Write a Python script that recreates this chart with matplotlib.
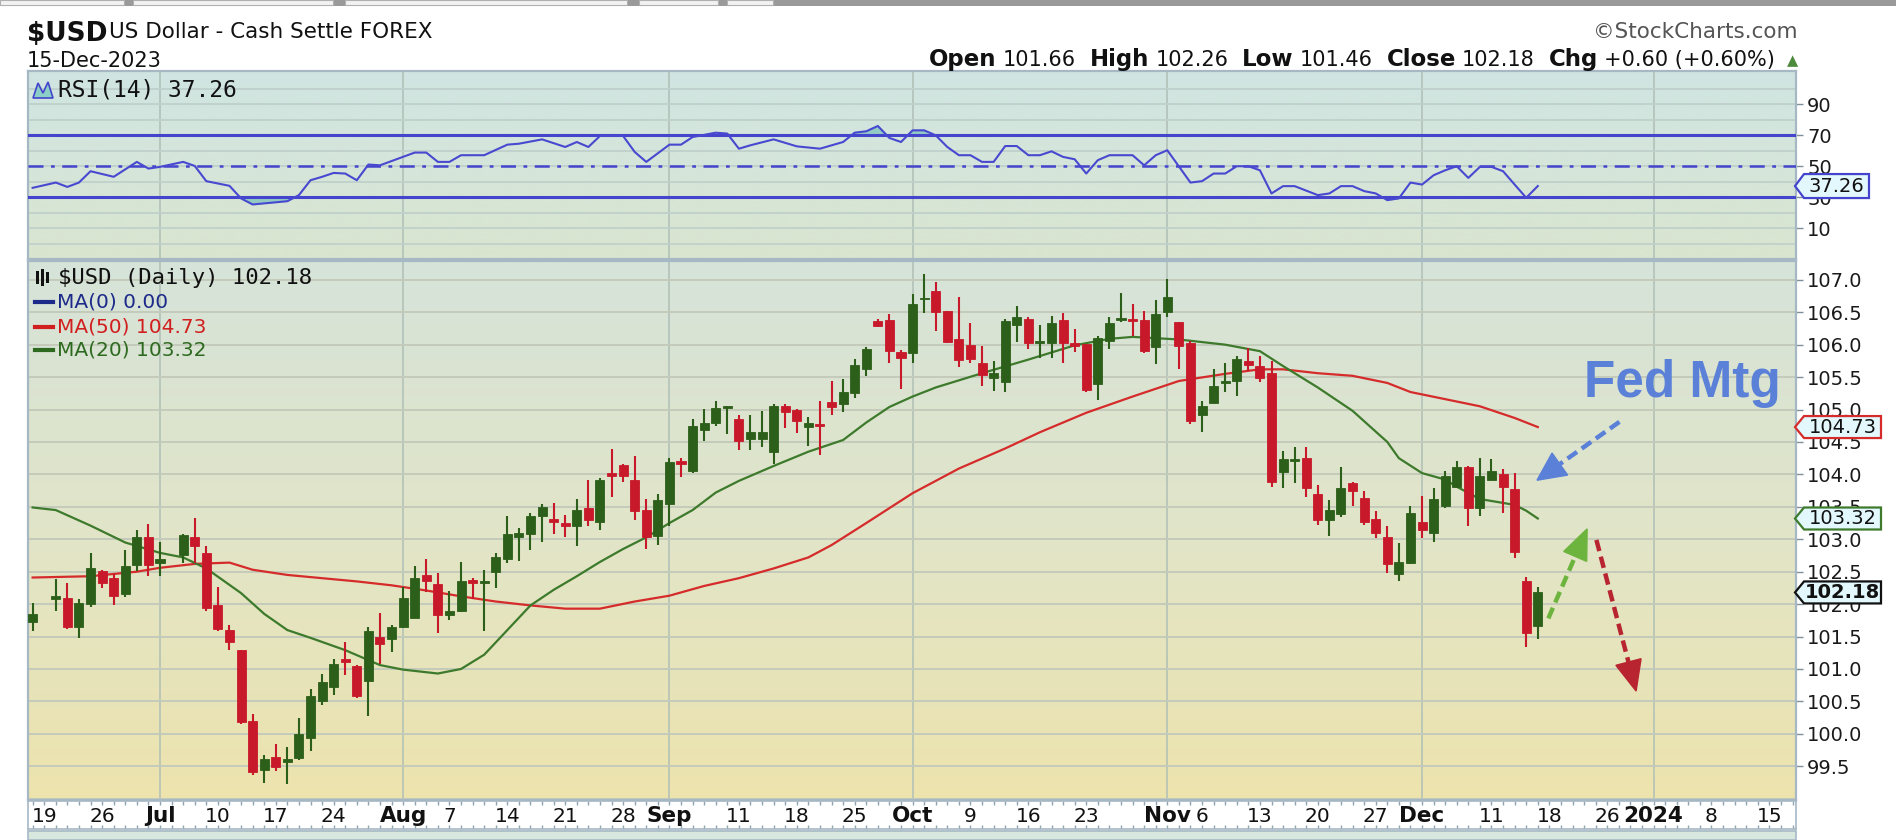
import numpy as np
import pandas as pd
import matplotlib

matplotlib.use('Agg')
import matplotlib.pyplot as plt
from matplotlib.patches import Rectangle, Polygon
from matplotlib.colors import LinearSegmentedColormap

plt.rcParams['font.family'] = ['DejaVu Sans']

# ---- data -----------------------------------------------------------------
# daily bars 16-Jun-2023 .. 15-Dec-2023, nan = no bar (19-Jun, 4-Jul)
candle_dates = pd.bdate_range('2023-06-16', '2023-12-15')
nan = np.nan
opens = [
    101.72, nan, 102.08, 102.09, 101.65, 102.00, 102.51, 102.40, 102.15, 102.61,
    103.04, 102.64, nan, 102.76, 103.04, 102.79, 101.99, 101.60, 101.29, 100.20,
    99.45, 99.65, 99.56, 99.63, 99.94, 100.51, 100.72, 101.15, 101.05, 100.82,
    101.50, 101.46, 101.65, 101.79, 102.45, 102.31, 101.83, 101.90, 102.37, 102.33,
    102.50, 102.70, 103.03, 103.08, 103.36, 103.32, 103.25, 103.20, 103.48, 103.27,
    104.02, 104.15, 103.91, 103.45, 103.05, 103.55, 104.20, 104.06, 104.69, 104.79,
    105.03, 104.85, 104.55, 104.55, 104.34, 105.05, 104.99, 104.73, 104.78, 105.11,
    105.08, 105.25, 105.63, 106.37, 106.38, 105.89, 105.87, 106.70, 106.83, 106.52,
    106.09, 105.99, 105.71, 105.49, 105.42, 106.31, 106.40, 106.02, 106.02, 106.38,
    106.03, 106.01, 105.39, 106.06, 106.39, 106.40, 106.38, 105.97, 106.51, 106.35,
    106.03, 104.91, 105.10, 105.41, 105.44, 105.75, 105.67, 105.56, 104.03, 104.21,
    104.25, 103.70, 103.30, 103.39, 103.87, 103.63, 103.31, 103.04, 102.47, 102.64,
    103.27, 103.09, 103.51, 103.81, 104.12, 103.48, 103.92, 104.01, 103.77, 102.35,
    101.66,
]
highs = [
    102.02, nan, 102.38, 102.33, 102.08, 102.79, 102.52, 102.47, 102.83, 103.15,
    103.24, 102.96, nan, 103.08, 103.33, 102.90, 102.27, 101.68, 101.29, 100.31,
    99.68, 99.85, 99.79, 100.25, 100.69, 100.93, 101.15, 101.41, 101.06, 101.64,
    101.86, 101.68, 102.27, 102.59, 102.69, 102.48, 102.20, 102.65, 102.41, 102.52,
    102.79, 103.36, 103.17, 103.40, 103.55, 103.56, 103.38, 103.62, 103.91, 103.94,
    104.39, 104.16, 104.29, 103.62, 103.70, 104.25, 104.25, 104.85, 105.01, 105.13,
    105.05, 104.92, 104.92, 104.97, 105.09, 105.09, 105.01, 104.89, 105.13, 105.44,
    105.47, 105.78, 105.97, 106.40, 106.48, 105.92, 106.78, 107.09, 106.97, 106.52,
    106.73, 106.34, 105.98, 105.75, 106.39, 106.59, 106.42, 106.30, 106.44, 106.49,
    106.24, 106.01, 106.13, 106.42, 106.80, 106.62, 106.52, 106.69, 107.01, 106.35,
    106.06, 105.13, 105.62, 105.71, 105.82, 105.95, 105.82, 105.75, 104.36, 104.42,
    104.42, 103.84, 103.60, 104.11, 103.88, 103.74, 103.43, 103.20, 102.94, 103.52,
    103.66, 103.79, 104.05, 104.20, 104.13, 104.25, 104.23, 104.08, 104.02, 102.42,
    102.26,
]
lows = [
    101.58, nan, 101.89, 101.62, 101.48, 101.96, 102.25, 101.98, 102.11, 102.51,
    102.43, 102.43, nan, 102.64, 102.64, 101.90, 101.59, 101.29, 100.15, 99.37,
    99.24, 99.42, 99.22, 99.60, 99.74, 100.44, 100.60, 100.91, 100.55, 100.28,
    101.08, 101.26, 101.63, 101.79, 102.19, 101.55, 101.76, 101.88, 102.08, 101.58,
    102.25, 102.64, 102.66, 102.84, 102.95, 103.08, 103.03, 102.89, 103.20, 103.15,
    103.65, 103.89, 103.30, 102.85, 102.91, 103.20, 103.96, 104.02, 104.51, 104.74,
    104.63, 104.37, 104.37, 104.43, 104.16, 104.72, 104.64, 104.44, 104.30, 104.92,
    104.96, 105.18, 105.52, 106.28, 105.72, 105.31, 105.72, 106.49, 106.21, 106.03,
    105.66, 105.72, 105.37, 105.28, 105.27, 106.04, 105.94, 105.80, 105.80, 105.72,
    105.88, 105.27, 105.14, 105.94, 106.35, 106.13, 105.87, 105.70, 106.43, 105.62,
    104.77, 104.65, 105.10, 105.27, 105.21, 105.59, 105.42, 103.81, 103.79, 103.86,
    103.65, 103.22, 103.05, 103.34, 103.51, 103.22, 103.02, 102.48, 102.36, 102.62,
    103.02, 102.95, 103.48, 103.79, 103.20, 103.36, 103.91, 103.40, 102.71, 101.34,
    101.46,
]
closes = [
    101.85, nan, 102.13, 101.64, 102.02, 102.56, 102.33, 102.12, 102.58, 103.04,
    102.60, 102.69, nan, 103.07, 102.89, 101.94, 101.62, 101.42, 100.18, 99.41,
    99.61, 99.49, 99.61, 99.99, 100.59, 100.80, 101.08, 101.10, 100.59, 101.58,
    101.38, 101.65, 102.10, 102.41, 102.35, 101.83, 101.89, 102.36, 102.33, 102.36,
    102.73, 103.08, 103.10, 103.36, 103.50, 103.27, 103.20, 103.45, 103.30, 103.91,
    103.98, 103.98, 103.44, 103.04, 103.60, 104.19, 104.16, 104.74, 104.80, 105.03,
    105.05, 104.51, 104.66, 104.66, 105.05, 104.96, 104.82, 104.80, 104.75, 105.04,
    105.27, 105.68, 105.93, 106.29, 105.90, 105.80, 106.62, 106.72, 106.51, 106.04,
    105.77, 105.78, 105.54, 105.57, 106.37, 106.43, 106.02, 106.06, 106.34, 106.03,
    105.98, 105.30, 106.11, 106.34, 106.41, 106.37, 105.90, 106.48, 106.73, 105.98,
    104.82, 105.05, 105.36, 105.43, 105.78, 105.68, 105.49, 103.89, 104.24, 104.23,
    103.79, 103.30, 103.45, 103.79, 103.75, 103.27, 103.10, 102.62, 102.65, 103.41,
    103.15, 103.62, 103.98, 104.11, 103.48, 103.98, 104.05, 103.81, 102.81, 101.56,
    102.18,
]

# moving averages / RSI: samples at trading-day number (0 = 16-Jun-2023)
ma20_day = [0, 2, 5, 8, 11, 13, 15, 18, 20, 22, 24, 27, 30, 32, 35, 37, 39, 41, 43,
            45, 47, 49, 51, 53, 55, 57, 59, 61, 64, 67, 70, 72, 74, 76, 78, 82, 86,
            90, 93, 95, 99, 103, 106, 108, 111, 114, 115, 117, 118, 120, 122, 123,
            125, 128, 129, 130]
ma20 = [103.49, 103.45, 103.21, 102.95, 102.79, 102.72, 102.55, 102.17, 101.85,
        101.60, 101.48, 101.29, 101.06, 100.99, 100.93, 101.00, 101.22, 101.60,
        101.98, 102.22, 102.43, 102.65, 102.85, 103.03, 103.25, 103.45, 103.72,
        103.90, 104.13, 104.35, 104.53, 104.80, 105.04, 105.20, 105.34, 105.56,
        105.77, 105.99, 106.09, 106.12, 106.08, 106.00, 105.90, 105.67, 105.34,
        104.98, 104.82, 104.50, 104.25, 104.02, 103.92, 103.81, 103.62, 103.53,
        103.44, 103.32]
ma50_day = [0, 5, 9, 11, 14, 17, 19, 22, 25, 28, 31, 34, 37, 40, 43, 46, 49, 52, 55,
            58, 61, 64, 67, 69, 72, 76, 80, 84, 87, 91, 95, 99, 103, 106, 108, 111,
            114, 117, 119, 122, 125, 128, 130]
ma50 = [102.41, 102.43, 102.50, 102.56, 102.62, 102.64, 102.53, 102.45, 102.40,
        102.35, 102.29, 102.21, 102.12, 102.04, 101.98, 101.93, 101.93, 102.04,
        102.13, 102.28, 102.40, 102.55, 102.72, 102.91, 103.25, 103.71, 104.09,
        104.40, 104.65, 104.95, 105.20, 105.44, 105.55, 105.62, 105.62, 105.56,
        105.52, 105.41, 105.27, 105.16, 105.05, 104.87, 104.73]
rsi_day = [0, 2, 3, 4, 5, 7, 9, 10, 11, 13, 14, 15, 17, 18, 19, 22, 23, 24, 25, 26,
           27, 28, 29, 30, 33, 34, 35, 36, 37, 39, 41, 42, 44, 46, 47, 48, 49, 51,
           52, 53, 55, 56, 57, 59, 60, 61, 62, 64, 66, 68, 70, 71, 72, 73, 74, 75,
           76, 77, 78, 79, 80, 81, 82, 83, 84, 85, 86, 87, 88, 89, 90, 91, 92, 93,
           95, 96, 97, 98, 100, 101, 102, 103, 104, 105, 106, 107, 108, 109, 111,
           112, 113, 114, 115, 116, 117, 118, 119, 120, 121, 122, 123, 124, 125,
           126, 127, 128, 129, 130]
rsi = [36.1, 39.5, 36.7, 39.5, 46.8, 43.2, 52.8, 48.5, 49.6, 52.8, 50.2, 40.4, 37.4,
       29.3, 25.4, 27.5, 31.4, 41.0, 43.2, 45.7, 45.3, 41.0, 51.1, 50.6, 58.8, 58.8,
       52.8, 52.8, 57.1, 57.1, 63.9, 64.5, 67.3, 62.4, 65.6, 62.4, 69.5, 69.5, 59.2,
       52.8, 63.9, 63.9, 68.8, 71.6, 71.0, 61.3, 63.5, 67.3, 62.8, 61.3, 65.6, 71.6,
       72.5, 75.9, 68.2, 65.6, 73.1, 73.1, 69.9, 62.4, 57.1, 57.1, 52.8, 52.8, 63.0,
       63.0, 57.1, 57.1, 59.6, 56.0, 54.5, 45.3, 53.9, 57.1, 57.1, 50.6, 57.1, 60.3,
       39.5, 40.4, 45.3, 45.3, 50.0, 50.0, 47.4, 32.5, 37.2, 37.2, 31.4, 32.5, 37.2,
       37.2, 34.0, 32.5, 28.2, 29.3, 39.5, 38.2, 44.2, 47.4, 50.0, 42.5, 49.6, 49.6,
       46.8, 38.2, 29.7, 37.26]

date_labels = [('2023-06-19', '19'), ('2023-06-26', '26'), ('2023-07-03', 'Jul'),
               ('2023-07-10', '10'), ('2023-07-17', '17'), ('2023-07-24', '24'),
               ('2023-08-01', 'Aug'), ('2023-08-07', '7'), ('2023-08-14', '14'),
               ('2023-08-21', '21'), ('2023-08-28', '28'), ('2023-09-01', 'Sep'),
               ('2023-09-11', '11'), ('2023-09-18', '18'), ('2023-09-25', '25'),
               ('2023-10-02', 'Oct'), ('2023-10-09', '9'), ('2023-10-16', '16'),
               ('2023-10-23', '23'), ('2023-11-01', 'Nov'), ('2023-11-06', '6'),
               ('2023-11-13', '13'), ('2023-11-20', '20'), ('2023-11-27', '27'),
               ('2023-12-01', 'Dec'), ('2023-12-11', '11'), ('2023-12-18', '18'),
               ('2023-12-26', '26'), ('2024-01-01', '2024'), ('2024-01-08', '8'),
               ('2024-01-15', '15')]
month_starts = ['2023-07-03', '2023-08-01', '2023-09-01', '2023-10-02',
                '2023-11-01', '2023-12-01', '2024-01-01']

# ---- trading-day axis ------------------------------------------------------
cal = pd.bdate_range('2023-06-16', '2024-01-19')
cal = cal[cal != pd.Timestamp('2023-12-25')]
day_pos = pd.Series(np.arange(len(cal)), index=cal)
candle_x = day_pos[candle_dates].values

GREEN, RED = '#2c5f19', '#c8192a'
MA20_C, MA50_C = '#3d7a2c', '#d52b2b'
RSI_C = '#4848d0'
GRID_C = '#c4cbbb'
BORDER = '#a6b8c4'
XLIM = (-0.4, 152.3)
RSI_LIM = (-9.7, 111.3)
PX_LIM = (98.98, 107.29)

W, H = 1896, 840
fig = plt.figure(figsize=(W / 100, H / 100), dpi=100)
fig.patch.set_facecolor('white')


def fx(x):
    return x / W


def fy(y):
    return 1 - y / H


L, R = 28, 1796
ax_rsi = fig.add_axes([fx(L), fy(259), (R - L) / W, (259 - 71) / H])
ax_px = fig.add_axes([fx(L), fy(800), (R - L) / W, (800 - 261) / H])
ax_dt = fig.add_axes([fx(L), fy(829), (R - L) / W, (829 - 801) / H])


def paint(ax, colors, ylim):
    cmap = LinearSegmentedColormap.from_list('bg', colors)
    ax.imshow(np.linspace(0, 1, 256).reshape(-1, 1), cmap=cmap, aspect='auto',
              extent=(XLIM[0], XLIM[1], ylim[0], ylim[1]), origin='upper',
              zorder=0, interpolation='bilinear')
    ax.set_xlim(*XLIM)
    ax.set_ylim(*ylim)
    for s in ax.spines.values():
        s.set_color(BORDER)
        s.set_linewidth(1.6)
    ax.tick_params(axis='x', bottom=False, labelbottom=False)
    ax.yaxis.tick_right()
    ax.tick_params(axis='y', right=True, length=5, width=1, color='#7f8f98',
                   labelsize=14, labelcolor='#1a1a1a', pad=3)
    for d in month_starts:
        ax.axvline(day_pos[pd.Timestamp(d)], color='#afbfb6', lw=1.1, zorder=1)


# ---- RSI panel ---------------------------------------------------------------
paint(ax_rsi, ['#d0e5e2', '#d5e5da', '#dae5cf'], RSI_LIM)
for g in range(0, 101, 10):
    ax_rsi.axhline(g, color='#bfd0cb', lw=1.3, zorder=1)
ax_rsi.set_yticks([10, 30, 50, 70, 90])
rx = np.array(rsi_day, dtype=float)
rv = np.array(rsi)
ax_rsi.fill_between(rx, rv, 70, where=rv > 70, interpolate=True, color='#93cbc4', zorder=2)
ax_rsi.fill_between(rx, rv, 30, where=rv < 30, interpolate=True, color='#93cbc4', zorder=2)
ax_rsi.axhline(70, color='#4444cc', lw=2.2, zorder=3)
ax_rsi.axhline(30, color='#4444cc', lw=2.2, zorder=3)
ax_rsi.axhline(50, color='#4444cc', lw=1.8, ls=(0, (6, 3, 1.5, 3)), zorder=3)
ax_rsi.plot(rx, rv, color=RSI_C, lw=1.5, zorder=4)

# ---- price panel -------------------------------------------------------------
paint(ax_px, ['#d6e3d9', '#e1e5c8', '#ede3ad'], PX_LIM)
for g in np.arange(99.0, 107.01, 0.5):
    ax_px.axhline(g, color=GRID_C, lw=1.4, zorder=1)
ticks = np.arange(99.5, 107.01, 0.5)
ax_px.set_yticks(ticks)
ax_px.set_yticklabels([f'{t:.1f}' for t in ticks])

ax_px.plot(ma50_day, ma50, color=MA50_C, lw=1.6, zorder=2)
ax_px.plot(ma20_day, ma20, color=MA20_C, lw=1.6, zorder=2)

bw = 0.78
for x, o, h, l, c in zip(candle_x, opens, highs, lows, closes):
    if np.isnan(o):
        continue
    col = GREEN if c >= o else RED
    ax_px.vlines(x, l, h, color=col, lw=1.5, zorder=3)
    lo, hi = min(o, c), max(o, c)
    if hi - lo < 0.025:
        mid = (hi + lo) / 2
        lo, hi = mid - 0.0125, mid + 0.0125
    ax_px.add_patch(Rectangle((x - bw / 2, lo), bw, hi - lo, facecolor=col,
                              edgecolor=col, lw=0.6, zorder=4))


def dashed_arrow(ax, start, tip, color, lw, head_len, head_w):
    p0 = ax.transData.transform(start)
    p1 = ax.transData.transform(tip)
    d = p1 - p0
    u = d / np.hypot(*d)
    n = np.array([-u[1], u[0]])
    base = p1 - u * head_len
    inv = ax.transData.inverted()
    b = inv.transform(base)
    ax.plot([start[0], b[0]], [start[1], b[1]], color=color, lw=lw,
            ls=(0, (2.6, 1.3)), dash_capstyle='butt', zorder=8)
    head = [p1, base + n * head_w / 2, base - n * head_w / 2]
    ax.add_patch(Polygon(inv.transform(head), closed=True, facecolor=color,
                         edgecolor=color, zorder=8))


dashed_arrow(ax_px, (137.05, 104.81), (129.93, 103.91), '#5a80d8', 3.2, 28, 27)
dashed_arrow(ax_px, (130.91, 101.78), (134.26, 103.16), '#6db43e', 3.2, 30, 25)
dashed_arrow(ax_px, (135.06, 102.99), (138.49, 100.66), '#b82530', 3.2, 30, 26)

fig.text(fx(1584), fy(397), 'Fed Mtg', fontsize=37, fontweight='bold',
         color='#5a80d8', family=['Liberation Sans', 'DejaVu Sans'], va='baseline')

# ---- date strip --------------------------------------------------------------
ax_dt.set_xlim(*XLIM)
ax_dt.set_ylim(0, 1)
ax_dt.set_facecolor('white')
for s in ax_dt.spines.values():
    s.set_color(BORDER)
    s.set_linewidth(1.2)
ax_dt.set_yticks([])
ax_dt.set_xticks([])
ax_dt.set_xticks(np.arange(0, 153), minor=True)
ax_dt.tick_params(axis='x', which='minor', direction='in', length=3, width=1,
                  color='#8fa3b0', top=True, bottom=True)
for d, lab in date_labels:
    bold = not lab.isdigit() or lab == '2024'
    ax_dt.text(day_pos[pd.Timestamp(d)], 0.45, lab, ha='center', va='center',
               fontsize=15.5 if bold else 14.5, fontweight='bold' if bold else 'normal',
               color='#111111')

# bottom strip of the next panel
fig.add_artist(Rectangle((fx(L), 0), (R - L) / W, fy(831), transform=fig.transFigure,
                         facecolor='#d9e8df', edgecolor=BORDER, lw=1.2))

# ---- value tags on the right -------------------------------------------------
def tag(ax, yval, label, edge, bold=False, x0=1795, x1=1881, hh=11, size=14):
    yd = ax.transData.transform((0, yval))[1]
    yp = H - yd
    pts = [(x0, yp), (x0 + 9, yp - hh), (x1, yp - hh), (x1, yp + hh), (x0 + 9, yp + hh)]
    fig.add_artist(Polygon([(fx(a), fy(b)) for a, b in pts], closed=True,
                           transform=fig.transFigure, facecolor='#e3f8fd',
                           edgecolor=edge, lw=1.6, zorder=10))
    fig.text(fx((x0 + 9 + x1) / 2), fy(yp), label, ha='center', va='center',
             fontsize=size, fontweight='bold' if bold else 'normal', color='#111111',
             zorder=11)


tag(ax_rsi, rsi[-1], f'{rsi[-1]:.2f}', '#4444cc', x1=1869, hh=12)
tag(ax_px, ma50[-1], f'{ma50[-1]:.2f}', '#d52b2b')
tag(ax_px, ma20[-1], f'{ma20[-1]:.2f}', '#3d7a2c')
tag(ax_px, closes[-1], f'{closes[-1]:.2f}', '#111111', bold=True)

# ---- in-panel legends ----------------------------------------------------------
fig.add_artist(Polygon([(fx(33), fy(98)), (fx(38), fy(83)), (fx(43), fy(93)),
                        (fx(48), fy(82)), (fx(53), fy(98))], closed=True,
                       transform=fig.transFigure, facecolor='#8ccfc6',
                       edgecolor='#4444cc', lw=1.2))
fig.text(fx(58), fy(90), f'RSI(14) {rsi[-1]:.2f}', fontsize=16.5, va='center',
         family=['DejaVu Sans Mono'], color='#111111')

for cx, top, bot in [(37, 271, 284), (42, 269, 286), (47, 272, 283)]:
    fig.add_artist(Rectangle((fx(cx - 1.5), fy(bot)), 3 / W, (bot - top) / H,
                             transform=fig.transFigure, facecolor='#111111'))
fig.text(fx(58), fy(278), f'$USD (Daily) {closes[-1]:.2f}', fontsize=16, va='center',
         family=['DejaVu Sans Mono'], color='#111111')

for y, lab, col in [(302, 'MA(0) 0.00', '#1c2a8a'),
                    (327, f'MA(50) {ma50[-1]:.2f}', '#d11f1f'),
                    (350, f'MA(20) {ma20[-1]:.2f}', '#2d6a1f')]:
    fig.add_artist(plt.Line2D([fx(35), fx(53)], [fy(y), fy(y)], color=col, lw=3,
                              transform=fig.transFigure))
    fig.text(fx(57), fy(y), lab, fontsize=14.5, va='center', color=col)

# ---- header ---------------------------------------------------------------------
fig.add_artist(Rectangle((0, fy(6)), 1, 6 / H, transform=fig.transFigure,
                         facecolor='#9a9a9a', edgecolor='none'))
for a, b in [(0, 124), (133, 333), (345, 627), (639, 718), (727, 773)]:
    fig.add_artist(Rectangle((fx(a), fy(5)), (b - a) / W, 5 / H, transform=fig.transFigure,
                             facecolor='#f2f2f2', edgecolor='#b0b0b0', lw=0.8))

fig.text(fx(27), fy(41), '$USD', fontsize=19, fontweight='bold', va='baseline',
         color='#111111')
fig.text(fx(109), fy(38), 'US Dollar - Cash Settle FOREX', fontsize=15.5,
         va='baseline', color='#111111')
fig.text(fx(27), fy(67), '15-Dec-2023', fontsize=15, va='baseline', color='#111111')
fig.text(fx(1798), fy(38), '\u00a9StockCharts.com', fontsize=15.5, ha='right',
         va='baseline', color='#555555')

renderer = fig.canvas.get_renderer()
parts = [('Open', True), ('101.66', False), ('High', True), ('102.26', False),
         ('Low', True), ('101.46', False), ('Close', True), ('102.18', False),
         ('Chg', True), ('+0.60 (+0.60%)', False)]
objs = []
widths = []
for txt, bold in parts:
    t = fig.text(0, fy(66), txt, fontsize=16.5 if bold else 15,
                 fontweight='bold' if bold else 'normal', va='baseline', color='#111111')
    objs.append(t)
    widths.append(t.get_window_extent(renderer).width)
gaps = [6 if bold else 14 for _, bold in parts]
tri_w = 17
total = sum(widths) + sum(gaps[:-1]) + 6 + tri_w
x = 1798 - total
for t, w, g in zip(objs, widths, gaps):
    t.set_x(fx(x))
    x += w + g
fig.text(fx(1798), fy(65), '\u25b2', fontsize=10.5, ha='right', va='baseline',
         color='#4d8a3c')

fig.savefig('out.png', dpi=100, facecolor='white')
